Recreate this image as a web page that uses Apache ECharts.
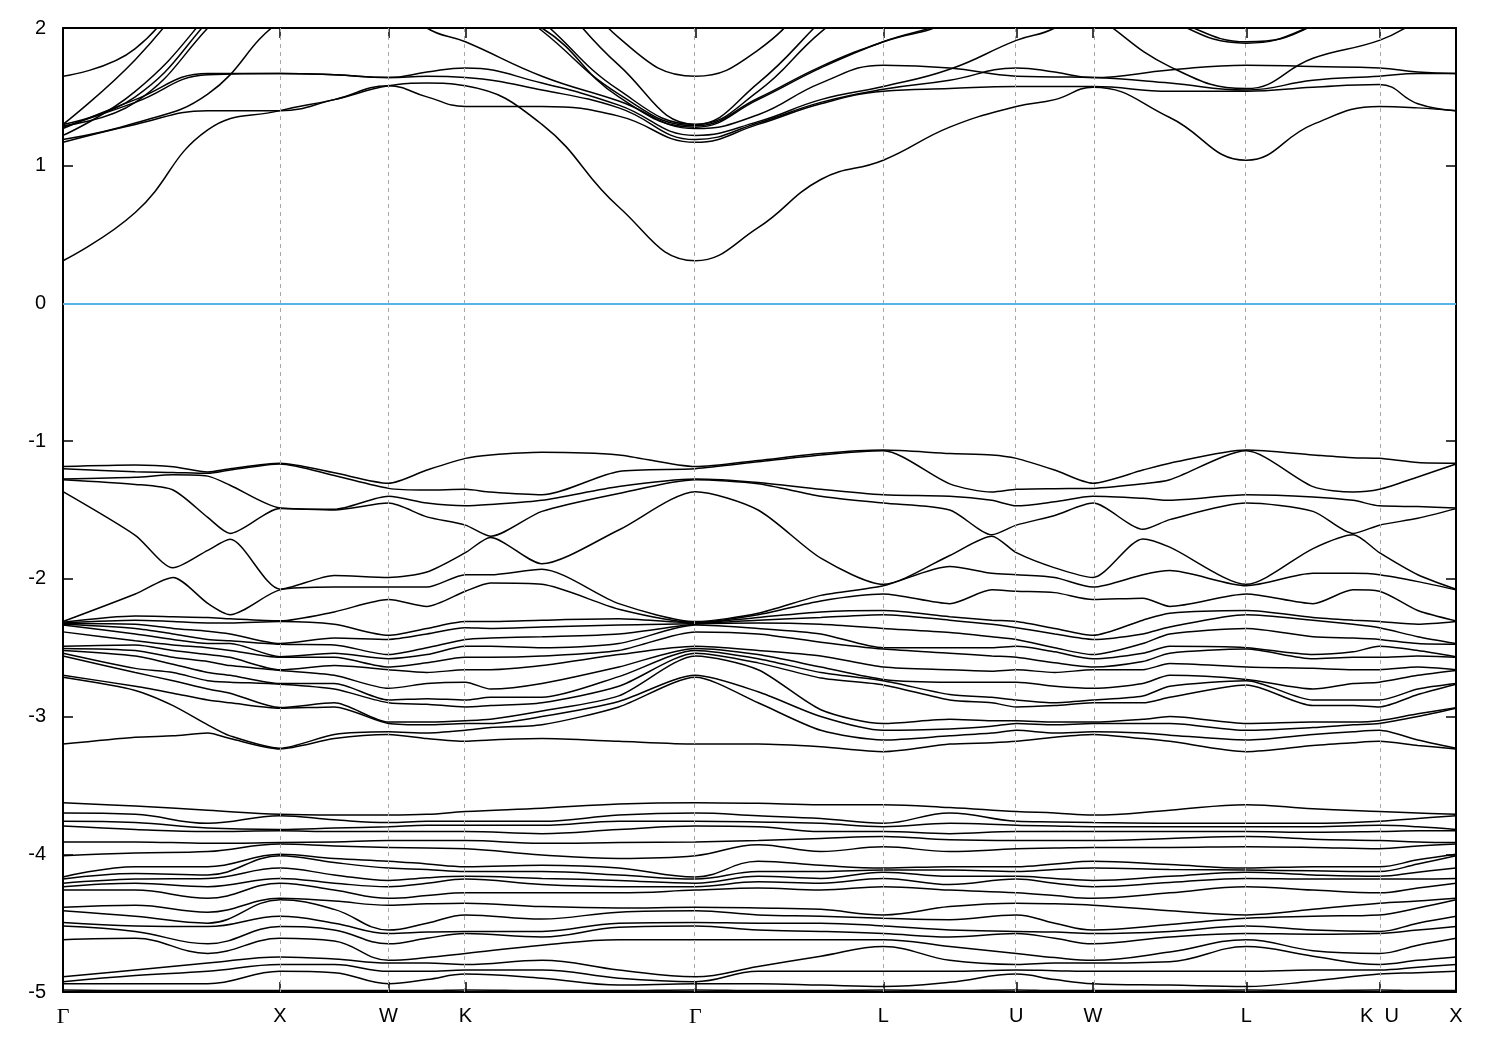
<!DOCTYPE html>
<html><head><meta charset="utf-8">
<script src="https://cdn.jsdelivr.net/npm/echarts@6/dist/echarts.min.js"></script>
<style>html,body{margin:0;padding:0;background:#fff}#c{width:1500px;height:1050px}</style>
</head><body><div id="c"></div>
<script>
// k-path positions (units of 2pi/a) and high-symmetry ticks
const kSamples = [0, 0.333, 0.667, 1, 1.25, 1.5, 1.677, 1.854, 2.207, 2.561, 2.914, 3.203, 3.492, 3.780, 4.086, 4.393, 4.570, 4.746, 5.100, 5.453, 5.760, 6.066, 6.243, 6.419];
const kValence = [0, 0.333, 0.507, 0.667, 0.77, 1, 1.25, 1.5, 1.677, 1.854, 1.97, 2.207, 2.561, 2.914, 3.203, 3.492, 3.780, 4.086, 4.28, 4.393, 4.570, 4.746, 4.976, 5.100, 5.453, 5.760, 5.945, 6.066, 6.243, 6.419];
const kTicks = [0, 1, 1.5, 1.854, 2.914, 3.780, 4.393, 4.746, 5.453, 6.066, 6.419];
const kTickLabels = ['Γ', 'X', 'W', 'K', 'Γ', 'L', 'U', 'W', 'L', 'K  U', 'X'];
const fermiLevel = 0;

// conduction bands (eV), one array per band, values at kSamples
const c1  = [0.31, 0.66, 1.26, 1.40, 1.48, 1.58, 1.60, 1.58, 1.30, 0.70, 0.31, 0.55, 0.90, 1.04, 1.28, 1.43, 1.48, 1.57, 1.35, 1.04, 1.30, 1.43, 1.42, 1.40];
const c2  = [1.17, 1.30, 1.40, 1.40, 1.48, 1.58, 1.50, 1.43, 1.43, 1.36, 1.17, 1.30, 1.45, 1.54, 1.56, 1.575, 1.575, 1.575, 1.54, 1.54, 1.57, 1.59, 1.45, 1.40];
const c3  = [1.27, 1.48, 1.67, 1.67, 1.66, 1.64, 1.68, 1.71, 1.60, 1.44, 1.22, 1.32, 1.48, 1.575, 1.70, 1.91, 2.0, 2.2, 2.06, 1.90, 2.02, 2.4, 2.5, 2.6];
const c4  = [1.28, 1.46, 1.66, 1.67, 1.66, 1.64, 1.65, 1.64, 1.55, 1.42, 1.19, 1.31, 1.46, 1.555, 1.62, 1.71, 1.68, 1.64, 1.695, 1.73, 1.72, 1.71, 1.68, 1.67];
const c5  = [1.19, 1.31, 1.52, 2.05, 2.2, 2.25, 2.0, 1.90, 1.65, 1.47, 1.27, 1.37, 1.60, 1.73, 1.71, 1.65, 1.645, 1.64, 1.60, 1.55, 1.62, 1.65, 1.67, 1.67];
const c6  = [1.29, 1.46, 2.0, 2.6, 2.8, 2.8, 2.5, 2.2, 2.0, 1.50, 1.28, 1.48, 1.71, 1.90, 2.05, 2.3, 2.25, 2.1, 1.72, 1.56, 1.78, 1.91, 2.05, 2.2];
const c7  = [1.30, 1.50, 2.05, 2.7, 2.9, 2.9, 2.7, 2.4, 1.98, 1.52, 1.29, 1.49, 1.72, 1.90, 2.05, 2.4, 2.5, 2.4, 2.06, 1.89, 2.02, 2.3, 2.5, 2.6];
const c8  = [1.22, 1.54, 2.1, 2.8, 3.0, 3.0, 2.8, 2.5, 2.05, 1.55, 1.30, 1.54, 1.97, 2.3, 2.5, 2.6, 2.7, 2.6, 2.4, 2.3, 2.4, 2.5, 2.6, 2.8];
const c9  = [1.30, 1.77, 2.4, 3.0, 3.0, 3.0, 2.9, 2.7, 2.3, 1.73, 1.30, 1.60, 2.05, 2.5, 2.6, 2.7, 2.8, 2.7, 2.6, 2.5, 2.6, 2.7, 2.8, 3.0];
const c10 = [1.65, 1.85, 2.5, 3.0, 3.0, 3.0, 3.0, 2.9, 2.6, 1.93, 1.65, 1.84, 2.3, 2.8, 2.8, 2.9, 2.9, 2.9, 2.8, 2.8, 2.8, 2.9, 3.0, 3.0];

// valence bands: sorted energies read at each kValence position
const vG    = [-1.185, -1.20, -1.275, -1.28, -1.367, -2.31, -2.315, -2.32, -2.325, -2.33, -2.335, -2.385, -2.49, -2.505, -2.52, -2.54, -2.56, -2.70, -2.715, -3.20];
const v1    = [-1.174, -1.222, -1.263, -1.314, -1.684, -2.11, -2.27, -2.30, -2.33, -2.36, -2.40, -2.45, -2.48, -2.52, -2.56, -2.65, -2.68, -2.78, -2.81, -3.15];
const v173  = [-1.186, -1.227, -1.244, -1.355, -1.92, -1.99, -2.275, -2.31, -2.36, -2.40, -2.44, -2.48, -2.52, -2.57, -2.62, -2.68, -2.74, -2.83, -2.92, -3.14];
const v2    = [-1.224, -1.234, -1.254, -1.554, -1.793, -2.178, -2.28, -2.32, -2.38, -2.44, -2.47, -2.50, -2.55, -2.60, -2.68, -2.74, -2.80, -2.88, -3.06, -3.12];
const v230  = [-1.20, -1.21, -1.32, -1.67, -1.713, -2.26, -2.29, -2.32, -2.40, -2.45, -2.47, -2.52, -2.57, -2.63, -2.70, -2.75, -2.83, -2.90, -3.14, -3.16];
const vX    = [-1.16, -1.166, -1.485, -1.49, -2.075, -2.08, -2.305, -2.31, -2.47, -2.475, -2.565, -2.57, -2.66, -2.665, -2.76, -2.765, -2.935, -2.94, -3.23, -3.235];
const v4    = [-1.23, -1.25, -1.495, -1.50, -1.975, -2.06, -2.24, -2.33, -2.43, -2.48, -2.54, -2.57, -2.63, -2.70, -2.76, -2.80, -2.90, -2.93, -3.13, -3.16];
const vW    = [-1.306, -1.343, -1.40, -1.45, -1.99, -2.06, -2.15, -2.41, -2.44, -2.55, -2.58, -2.64, -2.66, -2.795, -2.88, -2.90, -3.04, -3.05, -3.11, -3.13];
const v6    = [-1.21, -1.355, -1.45, -1.55, -1.95, -2.06, -2.20, -2.36, -2.40, -2.50, -2.55, -2.61, -2.68, -2.76, -2.87, -2.91, -3.04, -3.06, -3.12, -3.16];
const vK    = [-1.125, -1.35, -1.47, -1.61, -1.81, -1.97, -2.09, -2.31, -2.355, -2.44, -2.49, -2.57, -2.66, -2.75, -2.88, -2.93, -3.03, -3.05, -3.10, -3.18];
const v490  = [-1.10, -1.37, -1.46, -1.69, -1.70, -1.97, -2.03, -2.31, -2.36, -2.43, -2.49, -2.57, -2.66, -2.80, -2.86, -2.92, -3.02, -3.05, -3.08, -3.17];
const v8    = [-1.08, -1.39, -1.43, -1.51, -1.89, -1.93, -2.04, -2.30, -2.35, -2.42, -2.50, -2.56, -2.63, -2.76, -2.86, -2.90, -2.96, -3.00, -3.06, -3.16];
const v9    = [-1.10, -1.22, -1.33, -1.38, -1.645, -2.18, -2.22, -2.29, -2.335, -2.40, -2.47, -2.52, -2.55, -2.64, -2.71, -2.78, -2.85, -2.89, -2.93, -3.18];
const v11   = [-1.14, -1.15, -1.30, -1.31, -1.50, -2.25, -2.26, -2.28, -2.30, -2.32, -2.36, -2.40, -2.52, -2.55, -2.58, -2.61, -2.66, -2.82, -2.90, -3.20];
const v12   = [-1.09, -1.10, -1.35, -1.40, -1.85, -2.12, -2.16, -2.24, -2.28, -2.33, -2.40, -2.46, -2.56, -2.64, -2.68, -2.72, -2.95, -3.00, -3.10, -3.22];
const vL    = [-1.065, -1.07, -1.39, -1.45, -2.04, -2.05, -2.11, -2.23, -2.26, -2.36, -2.50, -2.51, -2.64, -2.73, -2.74, -2.77, -3.05, -3.10, -3.17, -3.255];
const v14   = [-1.09, -1.31, -1.40, -1.50, -1.83, -1.91, -2.18, -2.275, -2.30, -2.39, -2.50, -2.54, -2.66, -2.75, -2.84, -2.88, -3.02, -3.09, -3.14, -3.20];
const v992  = [-1.10, -1.37, -1.43, -1.68, -1.69, -1.96, -2.08, -2.30, -2.33, -2.42, -2.50, -2.56, -2.67, -2.75, -2.86, -2.90, -3.03, -3.07, -3.12, -3.19];
const v16   = [-1.21, -1.345, -1.44, -1.54, -1.92, -1.99, -2.10, -2.36, -2.40, -2.50, -2.53, -2.61, -2.68, -2.78, -2.90, -2.92, -3.04, -3.06, -3.12, -3.15];
const v1143 = [-1.21, -1.31, -1.415, -1.64, -1.71, -1.97, -2.14, -2.30, -2.40, -2.47, -2.54, -2.60, -2.66, -2.76, -2.85, -2.90, -3.02, -3.05, -3.12, -3.16];
const v18   = [-1.16, -1.28, -1.43, -1.57, -1.77, -1.94, -2.20, -2.25, -2.35, -2.40, -2.49, -2.54, -2.615, -2.70, -2.78, -2.86, -3.00, -3.05, -3.135, -3.18];
const v20   = [-1.10, -1.33, -1.405, -1.51, -1.78, -1.96, -2.18, -2.28, -2.30, -2.42, -2.55, -2.58, -2.65, -2.80, -2.88, -2.92, -3.04, -3.08, -3.13, -3.21];
const v1353 = [-1.12, -1.37, -1.43, -1.67, -1.68, -1.96, -2.08, -2.30, -2.33, -2.43, -2.53, -2.57, -2.66, -2.76, -2.88, -2.92, -3.04, -3.06, -3.11, -3.19];
const v22   = [-1.155, -1.26, -1.475, -1.56, -1.97, -2.02, -2.23, -2.33, -2.42, -2.47, -2.52, -2.56, -2.64, -2.70, -2.80, -2.84, -2.98, -3.00, -3.17, -3.21];

// semicore bands: sorted energies read at each kSamples position
const sG  = [-3.625, -3.70, -3.76, -3.795, -3.91, -4.01, -4.165, -4.18, -4.21, -4.235, -4.26, -4.385, -4.41, -4.495, -4.52, -4.62, -4.89, -4.925, -4.94, -4.985];
const s1  = [-3.65, -3.71, -3.77, -3.82, -3.91, -3.99, -4.09, -4.14, -4.18, -4.21, -4.26, -4.37, -4.45, -4.52, -4.56, -4.61, -4.84, -4.88, -4.94, -4.99];
const s2  = [-3.68, -3.775, -3.81, -3.835, -3.92, -3.98, -4.09, -4.15, -4.175, -4.235, -4.32, -4.42, -4.50, -4.525, -4.65, -4.72, -4.79, -4.85, -4.94, -4.99];
const sX  = [-3.71, -3.72, -3.82, -3.83, -3.915, -3.925, -4.00, -4.01, -4.10, -4.175, -4.21, -4.32, -4.33, -4.45, -4.525, -4.61, -4.745, -4.80, -4.85, -4.99];
const s4  = [-3.715, -3.75, -3.81, -3.835, -3.91, -3.94, -4.03, -4.06, -4.15, -4.21, -4.26, -4.34, -4.40, -4.50, -4.55, -4.63, -4.76, -4.80, -4.86, -4.99];
const sW  = [-3.715, -3.77, -3.80, -3.835, -3.90, -3.95, -4.05, -4.10, -4.19, -4.235, -4.32, -4.37, -4.55, -4.575, -4.65, -4.77, -4.79, -4.85, -4.94, -4.99];
const s6  = [-3.71, -3.76, -3.79, -3.835, -3.90, -3.955, -4.07, -4.11, -4.17, -4.21, -4.30, -4.36, -4.50, -4.565, -4.61, -4.75, -4.79, -4.85, -4.91, -4.99];
const sK  = [-3.69, -3.76, -3.79, -3.835, -3.90, -3.96, -4.09, -4.125, -4.16, -4.18, -4.28, -4.355, -4.44, -4.56, -4.575, -4.72, -4.80, -4.84, -4.87, -4.985];
const s8  = [-3.665, -3.76, -3.79, -3.85, -3.92, -4.005, -4.08, -4.125, -4.175, -4.22, -4.28, -4.38, -4.47, -4.56, -4.60, -4.66, -4.77, -4.84, -4.90, -4.99];
const s9  = [-3.635, -3.715, -3.76, -3.82, -3.915, -4.03, -4.10, -4.15, -4.19, -4.235, -4.28, -4.39, -4.42, -4.50, -4.53, -4.62, -4.84, -4.90, -4.95, -4.99];
const s11 = [-3.63, -3.72, -3.765, -3.80, -3.90, -3.93, -4.05, -4.125, -4.16, -4.20, -4.245, -4.39, -4.44, -4.50, -4.55, -4.62, -4.815, -4.85, -4.94, -4.99];
const s12 = [-3.64, -3.74, -3.775, -3.835, -3.885, -3.98, -4.08, -4.125, -4.175, -4.21, -4.26, -4.40, -4.45, -4.50, -4.56, -4.62, -4.74, -4.85, -4.95, -4.99];
const sL  = [-3.64, -3.775, -3.80, -3.835, -3.87, -3.945, -4.10, -4.115, -4.13, -4.175, -4.235, -4.44, -4.465, -4.52, -4.575, -4.62, -4.67, -4.85, -4.96, -4.985];
const s14 = [-3.66, -3.70, -3.775, -3.85, -3.895, -3.98, -4.09, -4.115, -4.16, -4.22, -4.26, -4.38, -4.475, -4.55, -4.60, -4.67, -4.77, -4.85, -4.93, -4.99];
const s16 = [-3.70, -3.765, -3.795, -3.835, -3.90, -3.955, -4.07, -4.11, -4.175, -4.21, -4.30, -4.36, -4.50, -4.565, -4.61, -4.75, -4.79, -4.845, -4.91, -4.99];
const s18 = [-3.68, -3.775, -3.80, -3.835, -3.885, -3.95, -4.075, -4.11, -4.16, -4.205, -4.28, -4.41, -4.51, -4.56, -4.60, -4.71, -4.78, -4.85, -4.95, -4.99];
const s20 = [-3.67, -3.775, -3.80, -3.84, -3.89, -3.95, -4.09, -4.12, -4.15, -4.18, -4.26, -4.40, -4.45, -4.55, -4.58, -4.70, -4.74, -4.84, -4.92, -4.99];
const s22 = [-3.70, -3.74, -3.80, -3.83, -3.91, -3.94, -4.04, -4.07, -4.13, -4.18, -4.245, -4.34, -4.39, -4.50, -4.55, -4.66, -4.77, -4.82, -4.86, -4.99];

const conductionBands = [c1, c2, c3, c4, c5, c6, c7, c8, c9, c10];
const valenceRows = [vG, v1, v173, v2, v230, vX, v4, vW, v6, vK, v490, v8, v9, vG, v11, v12, vL, v14, v992, vK, v16, vW, v1143, v18, vL, v20, v1353, vK, v22, vX];
const semicoreRows = [sG, s1, s2, sX, s4, sW, s6, sK, s8, s9, sG, s11, s12, sL, s14, sK, s16, sW, s18, sL, s20, sK, s22, sX];

const chart = echarts.init(document.getElementById('c'), null, {renderer: 'canvas'});
const FONT = 'Liberation Sans';

function bandSeries(points, smooth) {
  return {
    type: 'line', data: points, showSymbol: false, symbol: 'none', smooth: smooth,
    silent: true, animation: false, clip: true,
    lineStyle: {color: '#000', width: 1.5}, itemStyle: {color: '#000'}, z: 3
  };
}

const series = [];
series.push({
  type: 'line', data: [], silent: true, animation: false, z: 1,
  markLine: {
    silent: true, symbol: 'none', animation: false, label: {show: false},
    lineStyle: {color: '#a8a8a8', type: [4, 4], width: 1},
    data: kTicks.slice(1, -1).map(k => ({xAxis: k}))
  }
});
series.push({
  type: 'line', data: [], silent: true, animation: false, z: 2,
  markLine: {
    silent: true, symbol: 'none', animation: false, label: {show: false},
    lineStyle: {color: '#56b4e9', type: 'solid', width: 2},
    data: [{yAxis: fermiLevel}]
  }
});
conductionBands.forEach(b => series.push(bandSeries(b.map((e, i) => [kSamples[i], e]), 0.45)));
for (let j = 0; j < vG.length; j++) series.push(bandSeries(valenceRows.map((row, i) => [kValence[i], row[j]]), 0.25));
for (let j = 0; j < sG.length; j++) series.push(bandSeries(semicoreRows.map((row, i) => [kSamples[i], row[j]]), 0.4));

function kLabel(v) {
  const i = kTicks.findIndex(k => Math.abs(k - v) < 1e-6);
  if (i < 0) return '';
  const t = kTickLabels[i];
  return t === 'Γ' ? '{g|Γ}' : t;
}

const axisLineStyle = {color: '#000', width: 2};
const tickStyle = {color: '#000', width: 1.5};
const kMax = kSamples[kSamples.length - 1];

chart.setOption({
  animation: false,
  backgroundColor: '#fff',
  textStyle: {fontFamily: FONT},
  grid: {left: 63, right: 44, top: 28, bottom: 58, containLabel: false},
  xAxis: [{
    type: 'value', min: 0, max: kMax, position: 'bottom',
    axisLine: {show: true, onZero: false, lineStyle: axisLineStyle},
    axisTick: {show: true, inside: true, length: 10, customValues: kTicks, lineStyle: tickStyle},
    axisLabel: {
      show: true, customValues: kTicks, formatter: kLabel, margin: 14,
      color: '#000', fontSize: 20, fontFamily: FONT, showMinLabel: true, showMaxLabel: true,
      rich: {g: {fontFamily: 'Liberation Serif', fontSize: 22, color: '#000'}}
    },
    splitLine: {show: false}
  }, {
    type: 'value', min: 0, max: kMax, position: 'top',
    axisLine: {show: true, onZero: false, lineStyle: axisLineStyle},
    axisTick: {show: true, inside: true, length: 10, customValues: kTicks, lineStyle: tickStyle},
    axisLabel: {show: false}, splitLine: {show: false}
  }],
  yAxis: [{
    type: 'value', min: -5, max: 2, interval: 1, position: 'left',
    axisLine: {show: true, onZero: false, lineStyle: axisLineStyle},
    axisTick: {show: true, inside: true, length: 10, lineStyle: tickStyle},
    axisLabel: {show: true, margin: 17, color: '#000', fontSize: 20, fontFamily: FONT},
    splitLine: {show: false}
  }, {
    type: 'value', min: -5, max: 2, interval: 1, position: 'right',
    axisLine: {show: true, onZero: false, lineStyle: axisLineStyle},
    axisTick: {show: true, inside: true, length: 10, lineStyle: tickStyle},
    axisLabel: {show: false}, splitLine: {show: false}
  }],
  series: series
});
</script>
</body></html>
